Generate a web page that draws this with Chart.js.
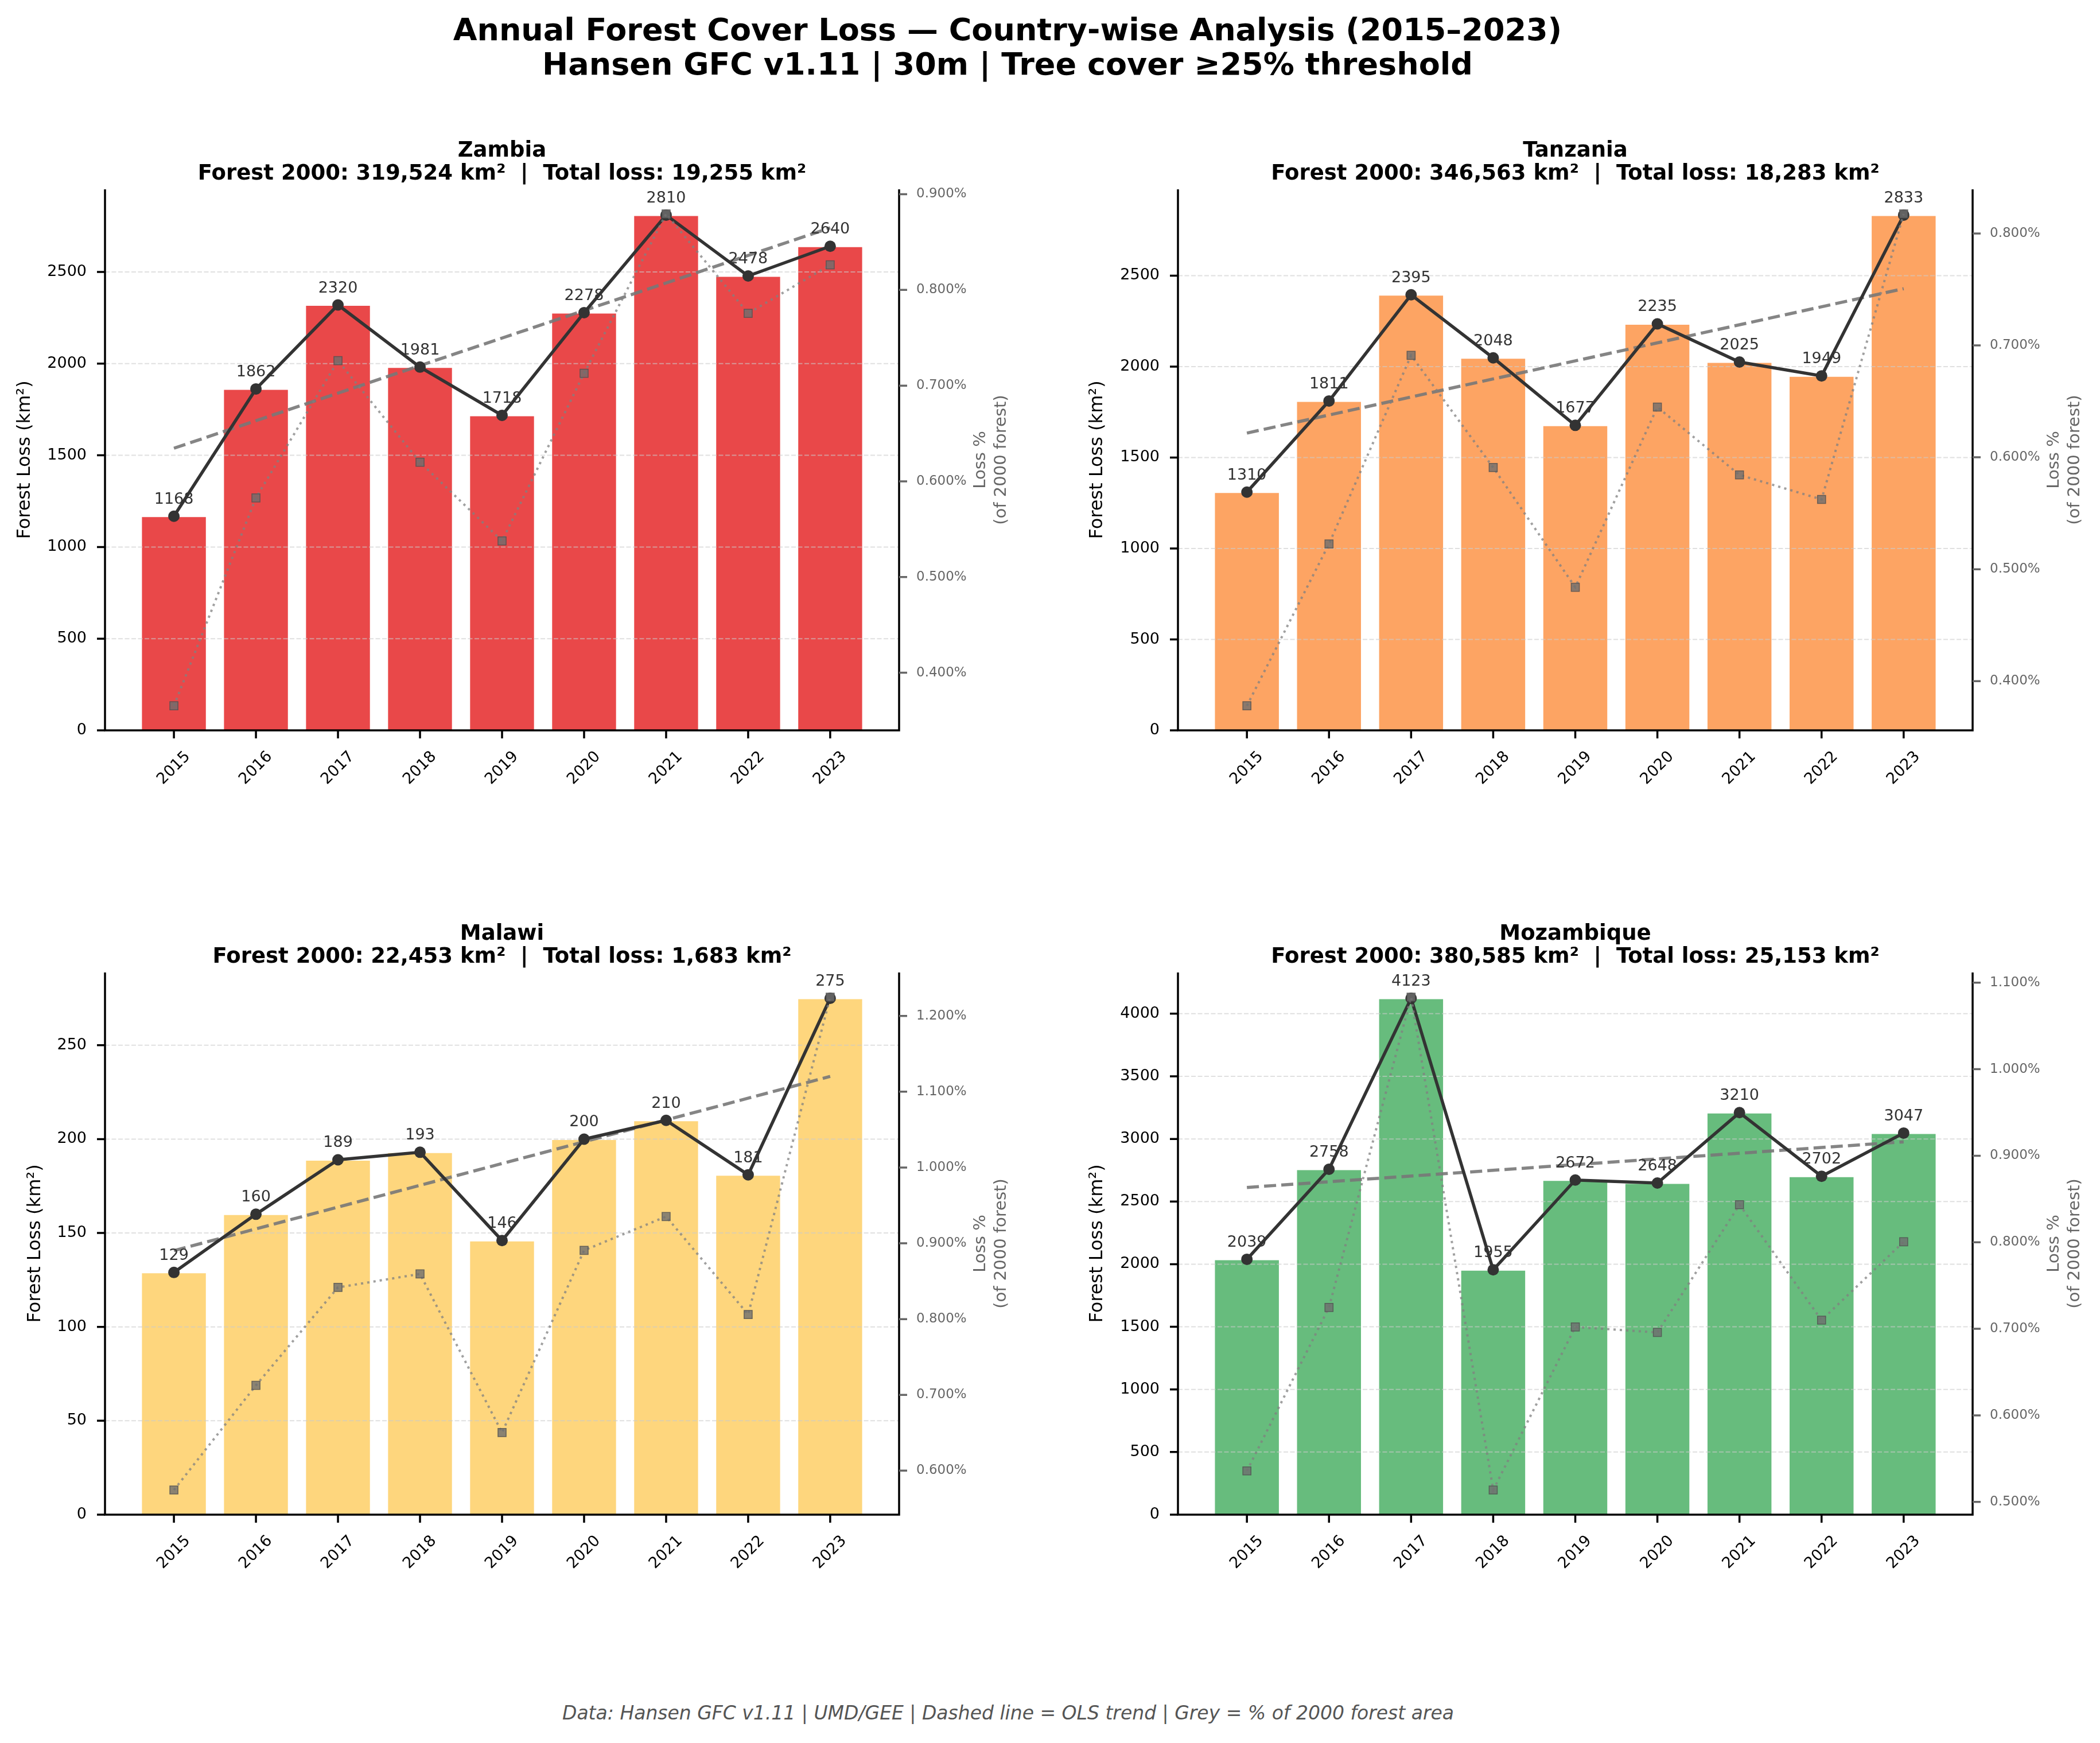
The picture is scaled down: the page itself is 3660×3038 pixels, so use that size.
<!DOCTYPE html>
<html>
<head>
<meta charset="utf-8">
<script src="https://cdn.jsdelivr.net/npm/chart.js@4.4.1/dist/chart.umd.min.js"></script>
<style>
  body { margin: 0; background: #fff; width: 3660px; height: 3038px; position: relative; overflow: hidden; font-family: "DejaVu Sans", sans-serif; }
  #title { position: absolute; left: 0; top: 22px; width: 3512px; text-align: center; font-weight: bold; font-size: 54px; line-height: 60px; color: #000; }
  #footer { position: absolute; left: 0; top: 2966px; width: 3514px; text-align: center; font-style: italic; font-size: 33px; line-height: 40px; color: #555; }
  canvas { position: absolute; }
</style>
</head>
<body>
<div id="title">Annual Forest Cover Loss — Country-wise Analysis (2015–2023)<br>Hansen GFC v1.11 | 30m | Tree cover ≥25% threshold</div>
<canvas id="c0" width="1830" height="1370" style="left:0px;top:150px;width:1830px;height:1370px"></canvas>
<canvas id="c1" width="1830" height="1370" style="left:1830px;top:150px;width:1830px;height:1370px"></canvas>
<canvas id="c2" width="1830" height="1370" style="left:0px;top:1515px;width:1830px;height:1370px"></canvas>
<canvas id="c3" width="1830" height="1370" style="left:1830px;top:1515px;width:1830px;height:1370px"></canvas>
<div id="footer">Data: Hansen GFC v1.11 | UMD/GEE | Dashed line = OLS trend | Grey = % of 2000 forest area</div>
<script>
const years = [2015, 2016, 2017, 2018, 2019, 2020, 2021, 2022, 2023];
const countries = ['Zambia', 'Tanzania', 'Malawi', 'Mozambique'];
const forest2000 = [319524, 346563, 22453, 380585];
const totalLoss = [19255, 18283, 1683, 25153];

// annual loss, km²
const zambiaLoss = [1168, 1862, 2320, 1981, 1718, 2278, 2810, 2478, 2640];
const tanzaniaLoss = [1310, 1811, 2395, 2048, 1677, 2235, 2025, 1949, 2833];
const malawiLoss = [129, 160, 189, 193, 146, 200, 210, 181, 275];
const mozambiqueLoss = [2039, 2758, 4123, 1955, 2672, 2648, 3210, 2702, 3047];

// loss as % of 2000 forest (grey squares, right axis)
const zambiaPct = [0.3655, 0.5827, 0.7261, 0.6200, 0.5377, 0.7129, 0.8794, 0.7755, 0.8262];
const tanzaniaPct = [0.3780, 0.5226, 0.6911, 0.5909, 0.4839, 0.6449, 0.5843, 0.5624, 0.8175];
const malawiPct = [0.5745, 0.7126, 0.8418, 0.8596, 0.6503, 0.8907, 0.9353, 0.8061, 1.2248];
const mozambiquePct = [0.5358, 0.7247, 1.0833, 0.5137, 0.7021, 0.6958, 0.8434, 0.7100, 0.8006];

// left axis tick values
const zambiaTicks = [0, 500, 1000, 1500, 2000, 2500];
const tanzaniaTicks = [0, 500, 1000, 1500, 2000, 2500];
const malawiTicks = [0, 50, 100, 150, 200, 250];
const mozambiqueTicks = [0, 500, 1000, 1500, 2000, 2500, 3000, 3500, 4000];
const rightTickStep = 0.1;

const lossSeries = [zambiaLoss, tanzaniaLoss, malawiLoss, mozambiqueLoss];
const pctSeries = [zambiaPct, tanzaniaPct, malawiPct, mozambiquePct];
const tickSeries = [zambiaTicks, tanzaniaTicks, malawiTicks, mozambiqueTicks];

const barColors = ['rgba(227,26,28,0.8)', 'rgba(253,141,60,0.8)', 'rgba(254,204,92,0.8)', 'rgba(65,171,93,0.8)'];
const FONT = '"DejaVu Sans", sans-serif';

// panel geometry inside each canvas
const panels = [
  { plotL: 183, plotR: 1567, top: 180, h: 943, titlePad: 24 },
  { plotL: 223, plotR: 1608, top: 180, h: 943, titlePad: 63 },
  { plotL: 183, plotR: 1567, top: 180, h: 945, titlePad: 42 },
  { plotL: 223, plotR: 1608, top: 180, h: 945, titlePad: 63 }
];

function olsTrend(vals) {
  const n = vals.length, mx = (n - 1) / 2;
  const my = vals.reduce((s, v) => s + v, 0) / n;
  let sxy = 0, sxx = 0;
  vals.forEach((v, i) => { sxy += (i - mx) * (v - my); sxx += (i - mx) * (i - mx); });
  const b = sxy / sxx, a = my - b * mx;
  return [{ x: 0, y: a }, { x: n - 1, y: a + b * (n - 1) }];
}

const framePlugin = {
  id: 'frame',
  afterDatasetDraw(chart, args) {
    if (args.meta.type !== 'bar') return;
    // dashed grid above bars, under lines
    const { ctx, chartArea: a } = chart;
    const y = chart.scales.y;
    ctx.save();
    ctx.strokeStyle = 'rgba(204,204,204,0.6)';
    ctx.lineWidth = 2;
    ctx.setLineDash([8, 3.5]);
    y.ticks.forEach(t => {
      if (t.value === 0) return;
      const py = y.getPixelForValue(t.value);
      ctx.beginPath();
      ctx.moveTo(a.left, py);
      ctx.lineTo(a.right, py);
      ctx.stroke();
    });
    ctx.restore();
  },
  afterDraw(chart, args, o) {
    const { ctx, chartArea: a } = chart;
    const x = chart.scales.x, y = chart.scales.y, y1 = chart.scales.y1;
    ctx.save();
    ctx.setLineDash([]);

    // value labels above the loss points
    const meta = chart.getDatasetMeta(1);
    ctx.fillStyle = '#333';
    ctx.font = '27px ' + FONT;
    ctx.textAlign = 'center';
    ctx.textBaseline = 'alphabetic';
    meta.data.forEach((pt, i) => {
      ctx.fillText(String(o.loss[i]), pt.x, pt.y - 22);
    });

    // spines
    ctx.strokeStyle = '#000';
    ctx.lineWidth = 3.5;
    ctx.beginPath();
    ctx.moveTo(a.left, a.top);
    ctx.lineTo(a.left, a.bottom);
    ctx.lineTo(a.right, a.bottom);
    ctx.lineTo(a.right, a.top);
    ctx.stroke();

    // tick marks
    ctx.beginPath();
    y.ticks.forEach(t => {
      const py = y.getPixelForValue(t.value);
      ctx.moveTo(a.left, py); ctx.lineTo(a.left - 14, py);
    });
    x.ticks.forEach(t => {
      const px = x.getPixelForValue(t.value);
      ctx.moveTo(px, a.bottom); ctx.lineTo(px, a.bottom + 14);
    });
    ctx.stroke();
    ctx.strokeStyle = '#666';
    ctx.beginPath();
    y1.ticks.forEach(t => {
      const py = y1.getPixelForValue(t.value);
      ctx.moveTo(a.right, py); ctx.lineTo(a.right + 14, py);
    });
    ctx.stroke();

    // rotated year labels, centred under the ticks
    ctx.fillStyle = '#000';
    ctx.font = '27px ' + FONT;
    ctx.textAlign = 'center';
    ctx.textBaseline = 'middle';
    x.ticks.forEach(t => {
      const px = x.getPixelForValue(t.value);
      ctx.save();
      ctx.translate(px, a.bottom + 66);
      ctx.rotate(-Math.PI / 4);
      ctx.fillText(String(years[t.value]), 0, 0);
      ctx.restore();
    });

    // right axis title
    ctx.save();
    ctx.translate(a.right + 160, (a.top + a.bottom) / 2);
    ctx.rotate(-Math.PI / 2);
    ctx.fillStyle = '#666';
    ctx.font = '29px ' + FONT;
    ctx.fillText('Loss %', 0, -18);
    ctx.fillText('(of 2000 forest)', 0, 18);
    ctx.restore();

    // panel title
    const cx = (a.left + a.right) / 2;
    ctx.fillStyle = '#000';
    ctx.font = 'bold 37px ' + FONT;
    ctx.textBaseline = 'alphabetic';
    ctx.fillText(o.name, cx, a.top - 57);
    ctx.fillText('Forest 2000: ' + o.forest.toLocaleString('en-US') + ' km²  |  Total loss: ' +
      o.total.toLocaleString('en-US') + ' km²', cx, a.top - 17);
    ctx.restore();
  }
};

countries.forEach((name, k) => {
  const loss = lossSeries[k], pct = pctSeries[k], p = panels[k];
  const pMin = Math.min(...pct), pMax = Math.max(...pct), pr = pMax - pMin;
  const xy = arr => arr.map((v, i) => ({ x: i, y: v }));

  new Chart(document.getElementById('c' + k), {
    type: 'bar',
    data: {
      datasets: [
        {
          type: 'bar',
          data: xy(loss),
          backgroundColor: barColors[k],
          borderColor: 'rgba(255,255,255,0.5)',
          borderWidth: 1.5,
          barPercentage: 0.8,
          categoryPercentage: 1.0,
          yAxisID: 'y',
          order: 4
        },
        {
          type: 'line',
          data: xy(loss),
          borderColor: '#333',
          borderWidth: 5.5,
          pointRadius: 10,
          pointBackgroundColor: '#333',
          pointBorderColor: '#333',
          pointBorderWidth: 0,
          tension: 0,
          fill: false,
          yAxisID: 'y',
          order: 2
        },
        {
          type: 'line',
          data: olsTrend(loss),
          borderColor: 'rgba(120,120,120,0.9)',
          borderWidth: 5.5,
          borderDash: [21, 9],
          pointRadius: 0,
          fill: false,
          yAxisID: 'y',
          order: 3
        },
        {
          type: 'line',
          data: xy(pct),
          borderColor: 'rgba(128,128,128,0.75)',
          borderWidth: 4,
          borderDash: [4, 7],
          pointStyle: 'rect',
          pointRadius: 10,
          pointBackgroundColor: 'rgba(110,110,110,0.8)',
          pointBorderColor: 'rgba(80,80,80,0.8)',
          pointBorderWidth: 1.5,
          tension: 0,
          fill: false,
          yAxisID: 'y1',
          order: 1
        }
      ]
    },
    options: {
      responsive: false,
      animation: false,
      devicePixelRatio: 1,
      events: [],
      layout: { padding: { top: p.top, left: 0, right: 0, bottom: 0 } },
      plugins: {
        legend: { display: false },
        tooltip: { enabled: false },
        frame: { name: name, forest: forest2000[k], total: totalLoss[k], loss: loss }
      },
      scales: {
        x: {
          type: 'linear',
          offset: false,
          min: -0.84,
          max: 8.84,
          grid: { display: false, drawTicks: false, offset: false },
          border: { display: false },
          ticks: { display: false, stepSize: 1, includeBounds: false },
          afterFit: s => { s.height = 1370 - p.top - p.h; }
        },
        y: {
          position: 'left',
          min: 0,
          max: Math.max(...loss) * 1.05,
          grid: { display: false, drawTicks: false },
          border: { display: false },
          afterBuildTicks: s => { s.ticks = tickSeries[k].map(v => ({ value: v })); },
          ticks: { padding: 32, color: '#000', font: { size: 27, family: FONT }, callback: v => String(v) },
          title: { display: true, text: 'Forest Loss (km²)', color: '#000', font: { size: 32, family: FONT }, padding: { top: p.titlePad, bottom: 0 } },
          afterFit: s => { s.width = p.plotL; }
        },
        y1: {
          position: 'right',
          min: pMin - 0.05 * pr,
          max: pMax + 0.05 * pr,
          grid: { display: false, drawTicks: false },
          border: { display: false },
          ticks: {
            stepSize: rightTickStep, includeBounds: false, padding: 30, color: '#666',
            font: { size: 23, family: FONT },
            callback: v => v.toFixed(3) + '%'
          },
          afterFit: s => { s.width = 1830 - p.plotR; }
        }
      }
    },
    plugins: [framePlugin]
  });
});
</script>
</body>
</html>
